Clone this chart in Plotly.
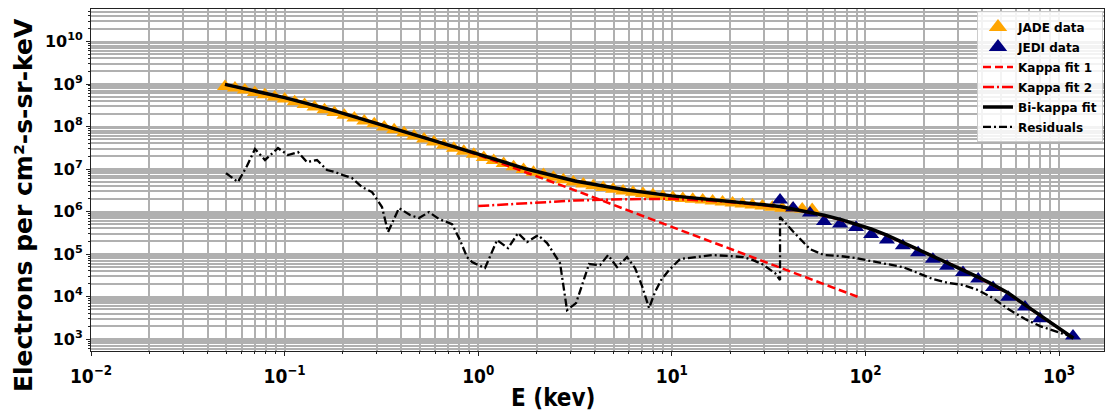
import math
import plotly.graph_objects as go

# ---------------- data ----------------
jade_E = [0.0492, 0.0554, 0.0623, 0.0702, 0.0790, 0.0889, 0.1001, 0.1127, 0.1268, 0.1427,
          0.1607, 0.1808, 0.2035, 0.2291, 0.2579, 0.2904, 0.3268, 0.3679, 0.4141, 0.4661,
          0.5248, 0.5906, 0.6648, 0.7483, 0.8424, 0.9484, 1.068, 1.202, 1.353, 1.523,
          1.714, 1.929, 2.172, 2.445, 2.752, 3.097, 3.487, 3.925, 4.418, 4.973,
          5.598, 6.301, 7.093, 7.984, 8.987, 10.12, 11.39, 12.82, 14.43, 16.24,
          18.28, 20.58, 23.17, 26.08, 29.35, 33.04, 37.19, 41.87, 47.13, 53.05]
jade_flux = [8.8e8, 8.1e8, 7.2e8, 6.35e8, 5.6e8, 4.97e8, 4.42e8, 3.82e8, 3.31e8, 2.87e8,
             2.49e8, 2.15e8, 1.84e8, 1.58e8, 1.35e8, 1.16e8, 9.8e7, 8.4e7, 7.1e7, 6.0e7,
             5.06e7, 4.32e7, 3.64e7, 3.09e7, 2.61e7, 2.22e7, 1.88e7, 1.59e7, 1.35e7, 1.14e7,
             9.7e6, 8.4e6, 7.4e6, 6.4e6, 5.6e6, 4.97e6, 4.46e6, 4.07e6, 3.70e6, 3.36e6,
             3.05e6, 2.84e6, 2.65e6, 2.47e6, 2.30e6, 2.14e6, 2.04e6, 1.95e6, 1.86e6, 1.78e6,
             1.69e6, 1.60e6, 1.51e6, 1.43e6, 1.35e6, 1.27e6, 1.20e6, 1.17e6, 1.15e6, 1.12e6]

jedi_E = [36.2, 42.3, 51.7, 61.1, 73.9, 89.4, 107, 129, 156, 187,
          223, 264, 319, 382, 456, 546, 667, 798, 1180]
jedi_flux = [1.87e6, 1.21e6, 9.2e5, 5.8e5, 5.1e5, 4.2e5, 2.9e5, 2.13e5, 1.58e5, 1.08e5,
             7.6e4, 5.2e4, 3.7e4, 2.6e4, 1.63e4, 9.7e3, 5.7e3, 3.0e3, 1.18e3]

fit1_E = [0.0492, 0.1, 0.178, 0.316, 0.562, 1.0, 1.778, 3.162, 5.623, 10.0,
          17.78, 31.62, 56.23, 91.6]
fit1_flux = [9.8e8, 4.79e8, 2.40e8, 1.12e8, 5.0e7, 2.14e7, 8.3e6, 3.16e6, 1.17e6, 4.37e5,
             1.58e5, 5.9e4, 2.24e4, 9.8e3]

fit2_E = [1.0, 1.778, 3.162, 5.623, 10.0, 17.78, 31.62, 36.2, 47, 61.1,
          75, 89.4, 107, 129, 156, 187, 223, 264, 319, 382,
          456, 546, 667, 798, 1000, 1186]
fit2_flux = [1.35e6, 1.58e6, 1.82e6, 1.95e6, 2.0e6, 1.74e6, 1.35e6, 1.28e6, 1.03e6, 8.0e5,
             6.3e5, 5.03e5, 3.81e5, 2.73e5, 1.84e5, 1.28e5, 8.9e4, 6.36e4, 4.3e4, 2.82e4,
             1.87e4, 1.19e4, 6.3e3, 3.6e3, 1.76e3, 1.04e3]

bik_E = [0.0492, 0.1, 0.178, 0.316, 0.562, 1.0, 1.778, 3.162, 5.623, 10.0,
         17.78, 31.62, 36.2, 47, 61.1, 75, 89.4, 107, 129, 156,
         187, 223, 264, 319, 382, 456, 546, 667, 798, 1000, 1186]
bik_flux = [9.8e8, 4.79e8, 2.40e8, 1.12e8, 5.0e7, 2.24e7, 1.0e7, 5.25e6, 3.31e6, 2.34e6,
            1.86e6, 1.41e6, 1.32e6, 1.06e6, 8.2e5, 6.46e5, 5.13e5, 3.89e5, 2.79e5, 1.88e5,
            1.31e5, 9.1e4, 6.49e4, 4.39e4, 2.88e4, 1.91e4, 1.21e4, 6.4e3, 3.67e3, 1.79e3, 1.05e3]

res_jade_E = [0.0498, 0.0574, 0.0639, 0.0703, 0.0792, 0.0924, 0.1041, 0.1173, 0.1305, 0.1470,
              0.1656, 0.1821, 0.2003, 0.2229, 0.2511, 0.2828, 0.3184, 0.3420, 0.3898, 0.4443,
              0.4945, 0.5569, 0.6272, 0.7323, 0.8054, 0.8752, 0.9290, 1.084, 1.251, 1.425,
              1.606, 1.787, 2.036, 2.267, 2.645, 2.875, 3.201, 3.735, 4.258, 4.683,
              5.211, 5.869, 6.455, 7.018, 7.626, 8.189, 8.796, 9.672, 11.03, 13.18,
              16.13, 19.98, 23.32, 26.27, 29.23, 34.13, 36.21]
res_jade = [8.05e6, 4.94e6, 1.18e7, 2.96e7, 1.63e7, 3.12e7, 2.13e7, 2.51e7, 1.46e7, 1.63e7,
            9.47e6, 8.50e6, 7.22e6, 6.14e6, 3.77e6, 2.88e6, 1.28e6, 3.30e5, 1.21e6, 8.27e5,
            7.03e5, 9.73e5, 6.67e5, 5.08e5, 2.13e5, 8.49e4, 6.49e4, 4.69e4, 2.13e5, 1.38e5,
            3.12e5, 1.91e5, 2.80e5, 1.82e5, 6.14e4, 4.81e3, 7.03e3, 5.82e4, 5.51e4, 9.47e4,
            4.94e4, 8.49e4, 4.69e4, 1.77e4, 5.36e3, 1.28e4, 2.44e4, 4.21e4, 7.62e4, 8.49e4,
            9.47e4, 8.98e4, 8.49e4, 7.22e4, 5.82e4, 3.57e4, 2.44e4]
res_jedi = [7.43e5, 3.38e5, 1.31e5, 9.47e4, 8.98e4, 8.05e4, 6.84e4, 5.82e4, 4.94e4, 3.57e4,
            2.58e4, 2.13e4, 1.87e4, 1.42e4, 9.2e3, 5.1e3, 2.96e3, 2.02e3, 1.11e3]

x_major = [1e-2, 1e-1, 1e0, 1e1, 1e2, 1e3]
x_labels = ["10<sup>\u22122</sup>", "10<sup>\u22121</sup>", "10<sup>0</sup>",
            "10<sup>1</sup>", "10<sup>2</sup>", "10<sup>3</sup>"]
y_major = [1e3, 1e4, 1e5, 1e6, 1e7, 1e8, 1e9, 1e10]
y_labels = ["10<sup>%d</sup>" % p for p in range(3, 11)]

X_RANGE = [-2.0, 3.232]
Y_RANGE = [2.72, 10.765]

# minor tick/grid positions (2..9 x 10^n inside the ranges)
x_minor = [k * 10.0 ** d for d in range(-2, 4) for k in range(2, 10)
           if X_RANGE[0] < math.log10(k * 10.0 ** d) < X_RANGE[1]]
y_minor = [k * 10.0 ** d for d in range(2, 11) for k in range(2, 10)
           if Y_RANGE[0] < math.log10(k * 10.0 ** d) < Y_RANGE[1]]

FONT = "DejaVu Sans"
COND = "DejaVu Sans Condensed"
GRID = "#b0b0b0"

fig = go.Figure()

# legend-only handles (larger markers in legend, like the reference)
fig.add_trace(go.Scatter(x=[None], y=[None], mode="markers", name="JADE data",
                         legendgroup="g1",
                         marker=dict(symbol="triangle-up", size=16, color="orange")))
fig.add_trace(go.Scatter(x=[None], y=[None], mode="markers", name="JEDI data",
                         legendgroup="g2",
                         marker=dict(symbol="triangle-up", size=16, color="navy")))

fig.add_trace(go.Scatter(x=jade_E, y=jade_flux, mode="markers", showlegend=False,
                         legendgroup="g1",
                         marker=dict(symbol="triangle-up", size=14, color="orange")))
fig.add_trace(go.Scatter(x=jedi_E, y=jedi_flux, mode="markers", showlegend=False,
                         legendgroup="g2",
                         marker=dict(symbol="triangle-up", size=14, color="navy")))

fig.add_trace(go.Scatter(x=fit1_E, y=fit1_flux, mode="lines", name="Kappa fit 1",
                         legendgroup="g3",
                         line=dict(color="red", width=2.5, dash="8px,4px")))
fig.add_trace(go.Scatter(x=fit2_E, y=fit2_flux, mode="lines", name="Kappa fit 2",
                         legendgroup="g4",
                         line=dict(color="red", width=2.5, dash="11px,3px,2px,3px")))
fig.add_trace(go.Scatter(x=bik_E, y=bik_flux, mode="lines", name="Bi-kappa fit",
                         legendgroup="g5",
                         line=dict(color="black", width=3.5)))
fig.add_trace(go.Scatter(x=res_jade_E + jedi_E, y=res_jade + res_jedi, mode="lines",
                         name="Residuals", legendgroup="g6",
                         line=dict(color="black", width=2.3, dash="8px,3px,2px,3px")))

axis_common = dict(type="log", showline=True, linecolor="#222", linewidth=1, mirror=True,
                   showgrid=True, gridcolor=GRID, gridwidth=1.6, zeroline=False,
                   ticks="outside", ticklen=4, tickcolor="#222", tickwidth=1)

fig.update_xaxes(range=X_RANGE, tickmode="array", tickvals=x_major, ticktext=x_labels,
                 tickfont=dict(family=COND, size=19, color="black", weight="bold"),
                 ticklabelstandoff=4,
                 minor=dict(tickvals=x_minor, showgrid=True, gridcolor=GRID, gridwidth=1.6,
                            ticks="outside", ticklen=2, tickcolor="#222"),
                 **axis_common)
fig.update_yaxes(range=Y_RANGE, tickmode="array", tickvals=y_major, ticktext=y_labels,
                 tickfont=dict(family=FONT, size=16, color="black", weight="bold"),
                 minor=dict(tickvals=y_minor, showgrid=True, gridcolor=GRID, gridwidth=1.6,
                            ticks="outside", ticklen=2, tickcolor="#222"),
                 **axis_common)

fig.update_layout(
    width=1110, height=414,
    margin=dict(l=91, r=6, t=9, b=63),
    paper_bgcolor="white", plot_bgcolor="white",
    font=dict(family=FONT, color="black"),
    legend=dict(x=0.999, y=0.993, xanchor="right", yanchor="top",
                bgcolor="rgba(255,255,255,0.85)", bordercolor="#cccccc", borderwidth=1,
                font=dict(family=FONT, size=12, color="black", weight="bold"),
                itemsizing="trace", tracegroupgap=1, groupclick="toggleitem"),
    annotations=[
        dict(text="Electrons per cm\u00b2-s-sr-keV", xref="paper", yref="paper",
             x=-0.066, y=0.427, xanchor="center", yanchor="middle", textangle=-90,
             showarrow=False, font=dict(family=FONT, size=25, color="black", weight="bold")),
        dict(text="E (kev)", xref="paper", yref="paper",
             x=0.456, y=-0.138, xanchor="center", yanchor="middle",
             showarrow=False, font=dict(family=COND, size=24, color="black", weight="bold")),
    ],
)

fig.write_html("out.html")
